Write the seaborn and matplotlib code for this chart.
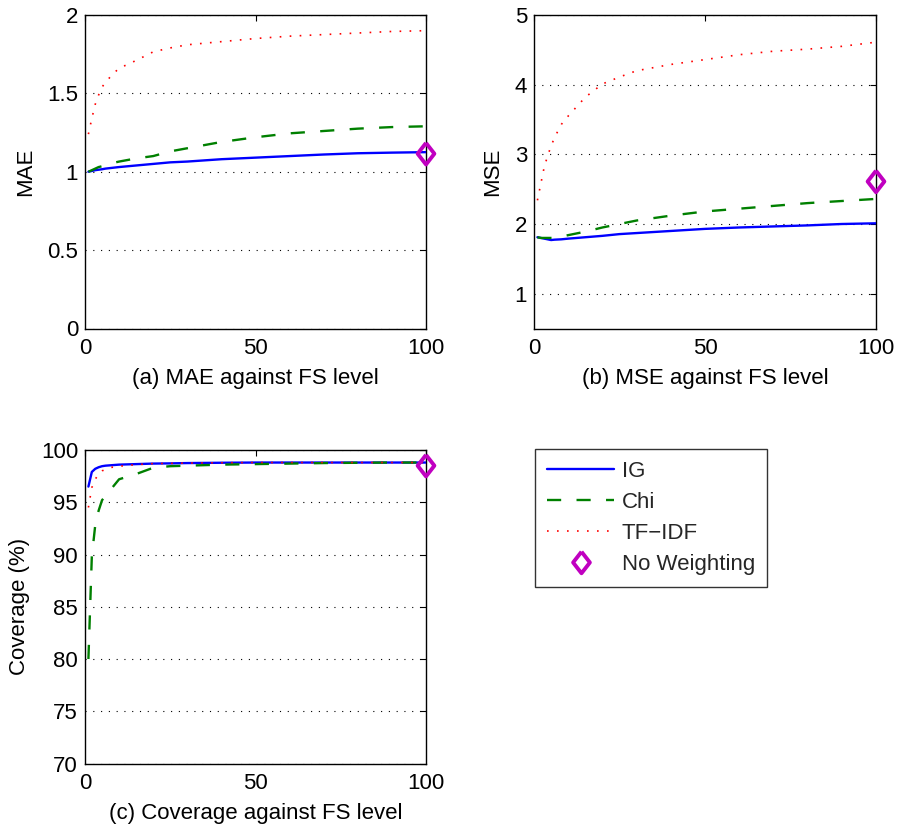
import numpy as np
import pandas as pd
import matplotlib
matplotlib.use("Agg")
import matplotlib.pyplot as plt
import seaborn as sns
from matplotlib.lines import Line2D

# ---------------- data ----------------
fs_level = [1, 2, 3, 4, 5, 6, 8, 10, 15, 20, 25, 30, 40, 50, 60, 70, 80, 90, 100]

mae_ig = [1.00, 1.005, 1.01, 1.013, 1.016, 1.02, 1.025, 1.03, 1.04, 1.05, 1.06, 1.065,
          1.08, 1.09, 1.10, 1.11, 1.118, 1.122, 1.125]
mae_chi = [1.00, 1.01, 1.02, 1.03, 1.035, 1.04, 1.055, 1.065, 1.085, 1.10, 1.13, 1.15,
           1.19, 1.22, 1.245, 1.26, 1.275, 1.285, 1.29]
mae_tfidf = [1.24, 1.34, 1.43, 1.49, 1.54, 1.57, 1.62, 1.66, 1.71, 1.765, 1.79, 1.81,
             1.83, 1.85, 1.865, 1.875, 1.885, 1.895, 1.90]

mse_ig = [1.81, 1.80, 1.79, 1.78, 1.77, 1.775, 1.78, 1.79, 1.81, 1.83, 1.855, 1.87,
          1.90, 1.93, 1.95, 1.965, 1.98, 2.00, 2.01]
mse_chi = [1.81, 1.80, 1.80, 1.80, 1.80, 1.80, 1.82, 1.84, 1.89, 1.95, 2.00, 2.05,
           2.12, 2.18, 2.22, 2.26, 2.30, 2.33, 2.36]
mse_tfidf = [2.34, 2.58, 2.82, 2.98, 3.12, 3.24, 3.43, 3.55, 3.82, 4.01, 4.11, 4.20,
             4.29, 4.36, 4.43, 4.48, 4.51, 4.55, 4.61]

cov_ig = [96.5, 97.9, 98.2, 98.35, 98.45, 98.5, 98.55, 98.6, 98.65, 98.7, 98.72, 98.75,
          98.78, 98.8, 98.8, 98.8, 98.8, 98.8, 98.8]
cov_chi = [80.0, 89.8, 92.8, 94.2, 95.2, 95.6, 96.4, 97.2, 97.7, 98.3, 98.45, 98.5,
           98.6, 98.65, 98.7, 98.75, 98.78, 98.8, 98.8]
cov_tfidf = [94.5, 96.4, 97.2, 97.7, 98.0, 98.15, 98.35, 98.45, 98.6, 98.7, 98.72, 98.75,
             98.78, 98.8, 98.8, 98.8, 98.8, 98.8, 98.8]

noweight_x = [100]
noweight_mae = [1.115]
noweight_mse = [2.61]
noweight_cov = [98.5]

methods = ["IG", "Chi", "TF\u2212IDF"]
noweight_label = "No Weighting"

# ---------------- style ----------------
sns.set_theme(style="white")
plt.rcParams["font.family"] = ["Liberation Sans", "DejaVu Sans"]
FS = 16

colors = {"IG": "#0000ff", "Chi": "#008000", "TF\u2212IDF": "#ff0000"}
styles = {"IG": "-", "Chi": (0, (6, 6.5)), "TF\u2212IDF": (0, (1, 5))}
widths = {"IG": 1.7, "Chi": 1.7, "TF\u2212IDF": 1.2}
MAGENTA = "#c000c0"
DIAMOND = [(0, 1), (0.78, 0), (0, -1), (-0.78, 0), (0, 1)]


def make_df(ig, chi, tf):
    return pd.DataFrame({
        "FS level": fs_level * 3,
        "value": ig + chi + tf,
        "method": [methods[0]] * len(fs_level) + [methods[1]] * len(fs_level)
                  + [methods[2]] * len(fs_level),
    })


fig = plt.figure(figsize=(8.98, 8.26), dpi=100)
W, H = 898, 826


def add_ax(l, r, t, b):
    return fig.add_axes([l / W, 1 - b / H, (r - l) / W, (b - t) / H])


ax_a = add_ax(85, 426, 15, 328.5)
ax_b = add_ax(534, 876, 15, 328.5)
ax_c = add_ax(85, 426, 450, 763.5)

panels = [
    (ax_a, make_df(mae_ig, mae_chi, mae_tfidf), noweight_mae, (0, 2), [0, 0.5, 1, 1.5, 2],
     ["0", "0.5", "1", "1.5", "2"], "MAE", "(a) MAE against FS level"),
    (ax_b, make_df(mse_ig, mse_chi, mse_tfidf), noweight_mse, (0.5, 5), [1, 2, 3, 4, 5],
     ["1", "2", "3", "4", "5"], "MSE", "(b) MSE against FS level"),
    (ax_c, make_df(cov_ig, cov_chi, cov_tfidf), noweight_cov, (70, 100),
     [70, 75, 80, 85, 90, 95, 100], ["70", "75", "80", "85", "90", "95", "100"],
     "Coverage (%)", "(c) Coverage against FS level"),
]

for ax, df, nw, ylim, yticks, yticklabels, ylabel, xlabel in panels:
    for m in methods:
        sub = df[df["method"] == m]
        sns.lineplot(data=sub, x="FS level", y="value", ax=ax, color=colors[m],
                     linestyle=styles[m], linewidth=widths[m], legend=False, zorder=3)
    sns.scatterplot(x=noweight_x, y=nw, ax=ax, marker=DIAMOND, s=240, facecolor="none",
                    edgecolor=MAGENTA, linewidth=2.8, legend=False, zorder=5, clip_on=False)
    ax.set_xlim(0, 100)
    ax.set_ylim(*ylim)
    ax.set_xticks([0, 50, 100])
    ax.set_xticklabels(["0", "50", "100"])
    ax.set_yticks(yticks)
    ax.set_yticklabels(yticklabels)
    ax.yaxis.grid(True, color="black", linestyle=(0, (1, 6)), linewidth=0.8)
    ax.xaxis.grid(False)
    ax.set_axisbelow(True)
    ax.tick_params(direction="in", length=4, width=0.8, labelsize=FS, colors="black",
                   top=True, right=True, pad=5)
    ax.tick_params(axis="x", pad=7)
    for sp in ax.spines.values():
        sp.set_color("black")
        sp.set_linewidth(1.0)
    ax.set_ylabel(ylabel, fontsize=FS, color="black", labelpad=8)
    ax.set_xlabel(xlabel, fontsize=FS, color="black", labelpad=6)

# legend
handles = [Line2D([0], [0], color=colors[m], linestyle=styles[m], linewidth=widths[m])
           for m in methods]
handles.append(Line2D([0], [0], marker=DIAMOND, markersize=15.5, markerfacecolor="none",
                      markeredgecolor=MAGENTA, markeredgewidth=2.8, linestyle="none"))
labels = methods + [noweight_label]
leg = fig.legend(handles, labels, loc="upper left",
                 bbox_to_anchor=(535 / W, 1 - 449 / H), fontsize=FS, frameon=True,
                 fancybox=False, edgecolor="black", handlelength=3.0, handletextpad=0.35,
                 labelspacing=0.45, borderpad=0.55, borderaxespad=0)
leg.get_frame().set_linewidth(1.0)

fig.savefig("out.png", dpi=100)
